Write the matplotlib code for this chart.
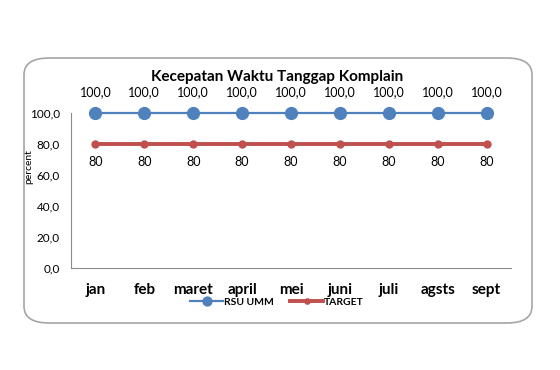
import matplotlib
matplotlib.use("Agg")
import matplotlib.pyplot as plt
from matplotlib.patches import FancyBboxPatch

# data
bulan = ["jan", "feb", "maret", "april", "mei", "juni", "juli", "agsts", "sept"]
rsu_umm = [100, 100, 100, 100, 100, 100, 100, 100, 100]
target = [80, 80, 80, 80, 80, 80, 80, 80, 80]
yticks = [0, 20, 40, 60, 80, 100]

plt.rcParams["font.family"] = ["Lato", "DejaVu Sans"]

W, H = 560, 370
fig = plt.figure(figsize=(W / 100, H / 100), dpi=100)
fig.patch.set_facecolor("white")

# rounded chart frame
frame = FancyBboxPatch((24 / W, 1 - 323 / H), (532 - 24) / W, (323 - 58) / H,
                       boxstyle="round,pad=0,rounding_size=0.045",
                       transform=fig.transFigure, facecolor="none",
                       edgecolor="#a6a6a6", linewidth=1.2, zorder=-1)
fig.patches.append(frame)

# axes: y=100 at px 113, y=0 at px 268; x from 71 to 511
ax = fig.add_axes([71 / W, 1 - 268 / H, (511 - 71) / W, (268 - 113) / H])
ax.set_facecolor("none")
x = list(range(len(bulan)))

ax.plot(x, rsu_umm, color="#4f81bd", lw=1.6, marker="o", ms=8.5, zorder=3, clip_on=False)
ax.plot(x, target, color="#c0504d", lw=2.8, marker="o", ms=5, zorder=3, clip_on=False)

for xi, v in zip(x, rsu_umm):
    ax.annotate(f"{v:.1f}".replace(".", ","), (xi, v), xytext=(0, 11),
                textcoords="offset points", ha="center", va="bottom", fontsize=9)
for xi, v in zip(x, target):
    ax.annotate(f"{v}", (xi, v), xytext=(0, -9), textcoords="offset points",
                ha="center", va="top", fontsize=9)

ax.set_xlim(-0.5, len(bulan) - 0.5)
ax.set_ylim(0, 100)
ax.set_yticks(yticks)
ax.set_yticklabels([f"{t:.1f}".replace(".", ",") for t in yticks], fontsize=8.5)
ax.set_xticks(x)
ax.set_xticklabels(bulan, fontsize=11, fontweight="bold")
ax.tick_params(axis="y", length=0, pad=8)
ax.tick_params(axis="x", length=0, pad=11)

for s in ["top", "right"]:
    ax.spines[s].set_visible(False)
ax.spines["left"].set_color("#8c8c8c")
ax.spines["bottom"].set_color("#8c8c8c")

ax.set_ylabel("percent", fontsize=7.5)
ax.yaxis.set_label_coords((33 - 71) / (511 - 71), (268 - 167) / (268 - 113))

fig.text(277 / W, 1 - 77 / H, "Kecepatan Waktu Tanggap Komplain",
         ha="center", va="center", fontsize=11, fontweight="bold")

leg = fig.legend(handles=ax.lines, labels=["RSU UMM", "TARGET"],
                 loc="center", bbox_to_anchor=(277 / W, 1 - 302 / H), ncol=2,
                 frameon=False, fontsize=7.5, handlelength=3.2, markerscale=0.75,
                 handletextpad=0.1, columnspacing=1.5, borderpad=0)
for t in leg.get_texts():
    t.set_fontweight("bold")

fig.savefig("out.png", dpi=100, facecolor="white")
